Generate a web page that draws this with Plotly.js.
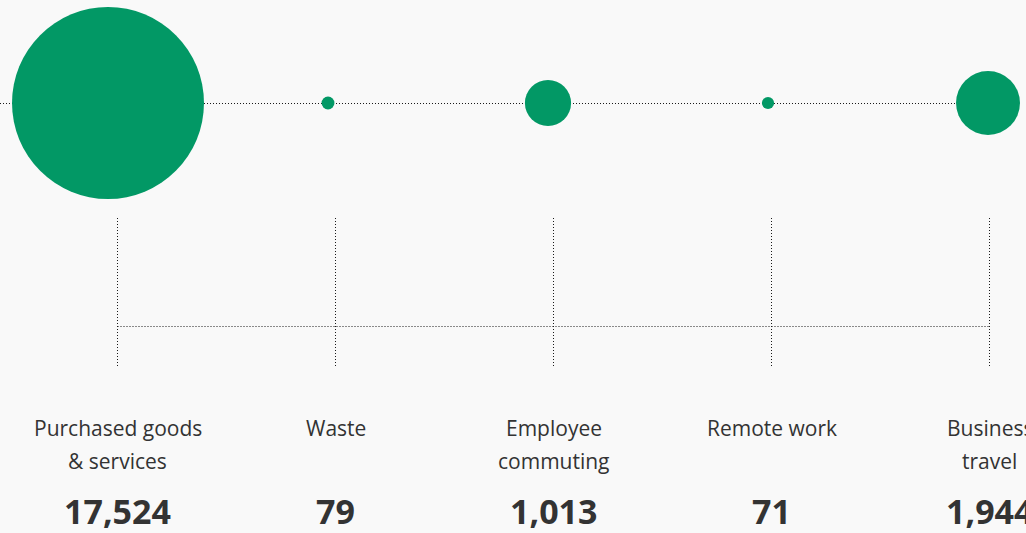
<!DOCTYPE html>
<html>
<head>
<meta charset="utf-8">
<script src="https://cdn.plot.ly/plotly-3.0.1.min.js"></script>
<style>
  html, body { margin: 0; padding: 0; background: #f9f9f9; }
  #chart { width: 1026px; height: 533px; }
</style>
</head>
<body>
<div id="chart"></div>
<script>
// Data
const categories = ["Purchased goods<br>& services", "Waste", "Employee<br>commuting", "Remote work", "Business<br>travel"];
const values = [17524, 79, 1013, 71, 1944];
const valueLabels = ["17,524", "79", "1,013", "71", "1,944"];

const idx = categories.map((c, i) => i);
const green = "#029865";
const ink = "#333333";
const lineInk = "#1a1a1a";
const dotted = "1px,2px";
const fontFam = "'Open Sans', 'Noto Sans', sans-serif";

const bubbles = {
  type: "scatter",
  mode: "markers",
  x: idx,
  y: idx.map(() => 0),
  xaxis: "x",
  yaxis: "y",
  hoverinfo: "skip",
  marker: {
    size: values,
    sizemode: "area",
    sizeref: 0.9512,
    sizemin: 0,
    color: green,
    opacity: 1,
    line: { width: 0 }
  },
  showlegend: false
};

const shapes = [];
// top connector line
shapes.push({
  type: "line", xref: "x", yref: "y",
  x0: -0.4909, x1: idx[idx.length - 1], y0: -0.5, y1: -0.5,
  line: { color: lineInk, width: 1, dash: dotted }, layer: "below"
});
// bracket: horizontal
shapes.push({
  type: "line", xref: "x2", yref: "paper",
  x0: idx[0], x1: idx[idx.length - 1], y0: 1 - 326.5 / 533, y1: 1 - 326.5 / 533,
  line: { color: lineInk, width: 1, dash: dotted }, layer: "below"
});
// bracket: verticals
idx.forEach(i => {
  shapes.push({
    type: "line", xref: "x2", yref: "paper",
    x0: i, x1: i, y0: 1 - 218 / 533, y1: 1 - 368 / 533,
    line: { color: lineInk, width: 1, dash: dotted }, layer: "below"
  });
});

const annotations = [];
idx.forEach(i => {
  const lines = categories[i].split("<br>");
  lines.forEach((ln, k) => {
    annotations.push({
      xref: "x2", yref: "paper", x: i, y: 1 - (412 + 33 * k) / 533,
      xanchor: "center", yanchor: "top", showarrow: false,
      text: ln,
      font: { family: fontFam, size: 21, color: ink },
      align: "center"
    });
  });
  annotations.push({
    xref: "x2", yref: "paper", x: i, y: 1 - 486 / 533,
    xanchor: "center", yanchor: "top", showarrow: false,
    text: "<b>" + valueLabels[i] + "</b>",
    font: { family: fontFam, size: 34, color: ink },
    align: "center"
  });
});

const layout = {
  width: 1026, height: 533,
  margin: { l: 0, r: 0, t: 0, b: 0, pad: 0 },
  paper_bgcolor: "#f9f9f9",
  plot_bgcolor: "rgba(0,0,0,0)",
  showlegend: false,
  xaxis: { range: [-0.4909, 4.1727], visible: false, fixedrange: true, domain: [0, 1] },
  xaxis2: { range: [-0.5390, 4.1674], visible: false, fixedrange: true, overlaying: "x", domain: [0, 1] },
  yaxis: { range: [-430, 103], visible: false, fixedrange: true, domain: [0, 1] },
  shapes: shapes,
  annotations: annotations,
  hovermode: false
};

Plotly.newPlot("chart", [bubbles], layout, { displayModeBar: false, staticPlot: true });
</script>
</body>
</html>
